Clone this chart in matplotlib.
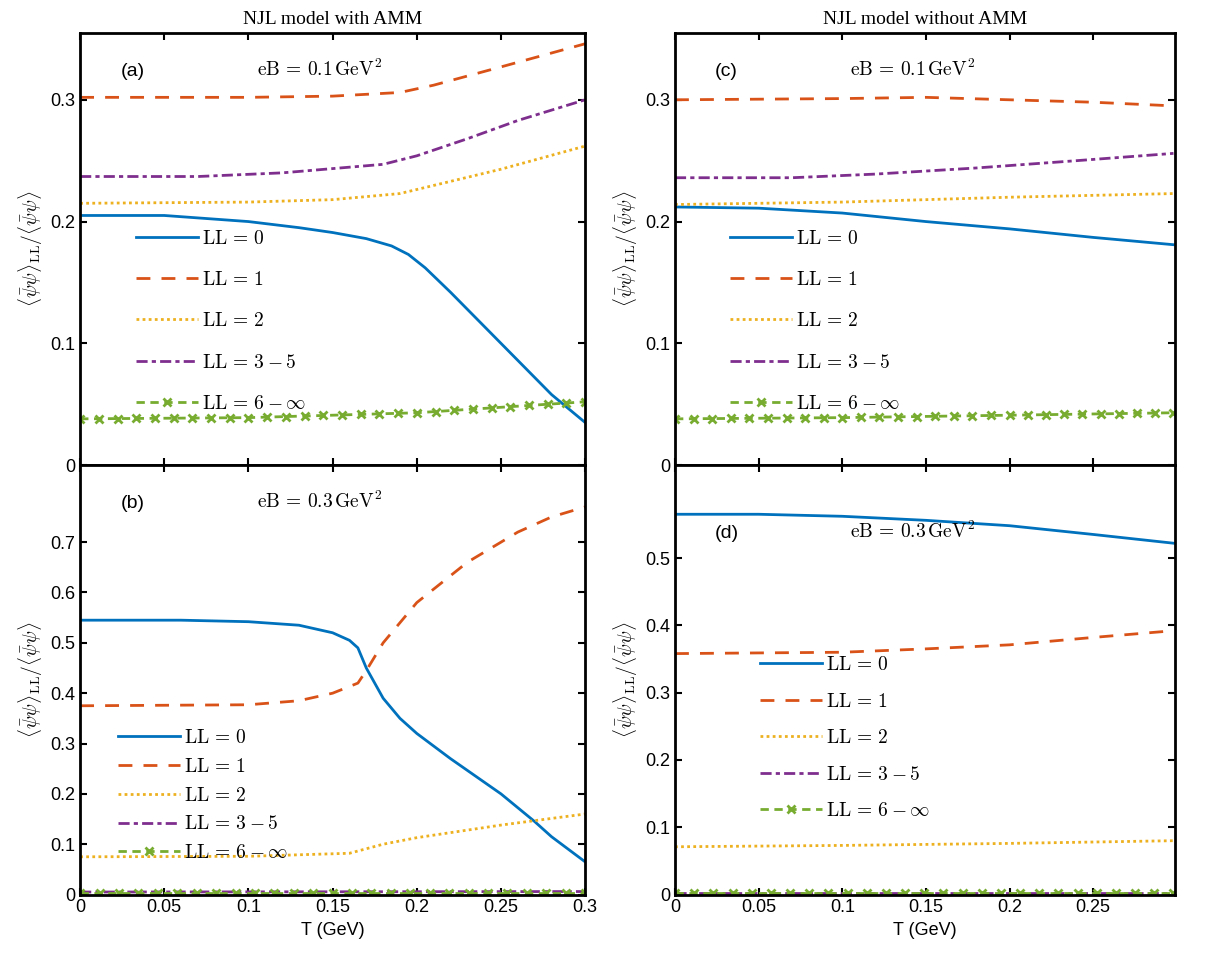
import matplotlib
matplotlib.use("Agg")
import matplotlib.pyplot as plt
import numpy as np
from matplotlib.path import Path

plt.rcParams['font.family'] = ['Liberation Sans', 'DejaVu Sans']
plt.rcParams['mathtext.fontset'] = 'cm'

C = ['#0072BD', '#D95319', '#EDB120', '#7E2F8E', '#77AC30']
labels = [r'$\mathrm{LL}\,=\,0$', r'$\mathrm{LL}\,=\,1$', r'$\mathrm{LL}\,=\,2$',
          r'$\mathrm{LL}\,=\,3-5$', r'$\mathrm{LL}\,=\,6-\infty$']

# panel (a): with AMM, eB=0.1
Ta0 = [0, 0.05, 0.1, 0.13, 0.15, 0.17, 0.185, 0.195, 0.205, 0.22, 0.25, 0.28, 0.3]
a0 = [0.205, 0.205, 0.2, 0.195, 0.191, 0.186, 0.18, 0.173, 0.162, 0.142, 0.1, 0.058, 0.035]
Ta1 = [0, 0.1, 0.15, 0.19, 0.21, 0.25, 0.3]
a1 = [0.302, 0.302, 0.303, 0.306, 0.312, 0.327, 0.346]
Ta2 = [0, 0.1, 0.15, 0.19, 0.22, 0.25, 0.3]
a2 = [0.215, 0.216, 0.218, 0.223, 0.233, 0.243, 0.262]
Ta3 = [0, 0.07, 0.12, 0.18, 0.2, 0.23, 0.26, 0.3]
a3 = [0.237, 0.237, 0.24, 0.247, 0.254, 0.268, 0.283, 0.3]
Ta4 = [0, 0.1, 0.2, 0.3]
a4 = [0.038, 0.039, 0.043, 0.052]

# panel (b): with AMM, eB=0.3
Tb0 = [0, 0.06, 0.1, 0.13, 0.15, 0.16, 0.165, 0.17, 0.18, 0.19, 0.2, 0.22, 0.25, 0.27, 0.28, 0.29, 0.3]
b0 = [0.545, 0.545, 0.542, 0.535, 0.52, 0.505, 0.49, 0.45, 0.39, 0.35, 0.32, 0.27, 0.2, 0.145, 0.115, 0.09, 0.065]
Tb1 = [0, 0.1, 0.13, 0.15, 0.165, 0.17, 0.18, 0.2, 0.23, 0.26, 0.28, 0.3]
b1 = [0.375, 0.377, 0.385, 0.4, 0.42, 0.445, 0.5, 0.58, 0.66, 0.72, 0.75, 0.77]
Tb2 = [0, 0.1, 0.16, 0.18, 0.2, 0.25, 0.3]
b2 = [0.075, 0.076, 0.082, 0.1, 0.113, 0.138, 0.16]
Tb3 = [0, 0.3]
b3 = [0.005, 0.006]
Tb4 = [0, 0.3]
b4 = [0.003, 0.003]

# panel (c): without AMM, eB=0.1
Tc0 = [0, 0.05, 0.1, 0.15, 0.2, 0.25, 0.298]
c0 = [0.212, 0.211, 0.207, 0.2, 0.194, 0.187, 0.181]
Tc1 = [0, 0.1, 0.15, 0.2, 0.25, 0.298]
c1 = [0.300, 0.301, 0.302, 0.300, 0.298, 0.295]
Tc2 = [0, 0.1, 0.2, 0.298]
c2 = [0.214, 0.216, 0.22, 0.223]
Tc3 = [0, 0.07, 0.12, 0.18, 0.24, 0.298]
c3 = [0.236, 0.236, 0.239, 0.244, 0.25, 0.256]
Tc4 = [0, 0.1, 0.2, 0.298]
c4 = [0.038, 0.039, 0.041, 0.043]

# panel (d): without AMM, eB=0.3
Td0 = [0, 0.05, 0.1, 0.15, 0.2, 0.25, 0.298]
d0 = [0.565, 0.565, 0.562, 0.556, 0.548, 0.535, 0.522]
Td1 = [0, 0.1, 0.15, 0.2, 0.25, 0.298]
d1 = [0.358, 0.36, 0.365, 0.371, 0.382, 0.392]
Td2 = [0, 0.1, 0.2, 0.298]
d2 = [0.071, 0.073, 0.076, 0.08]
Td3 = [0, 0.298]
d3 = [0.003, 0.003]
Td4 = [0, 0.298]
d4 = [0.003, 0.003]

fig = plt.figure(figsize=(12.14, 9.65), dpi=100)
axa = fig.add_axes([0.066, 0.518, 0.416, 0.448])
axb = fig.add_axes([0.066, 0.073, 0.416, 0.445])
axc = fig.add_axes([0.556, 0.518, 0.412, 0.448])
axd = fig.add_axes([0.556, 0.073, 0.412, 0.445])

styles = [dict(ls='-'), dict(ls=(0, (5, 4))), dict(ls=(0, (1, 1.2))),
          dict(ls=(0, (4, 1.5, 1.5, 1.5))), dict(ls=(0, (3, 2)))]

def draw(ax, series, tag, eb, ylim, yticks, xmax, xticks, xlab, anchor, lspace, tagy):
    handles = []
    for i, (T, v) in enumerate(series):
        if i < 4:
            h, = ax.plot(T, v, color=C[i], lw=2, label=labels[i], **styles[i])
        else:
            ax.plot(T, v, color=C[i], lw=2, **styles[i])
            # evenly spaced markers along the same piecewise-linear line
            p = Path(np.column_stack([T, v])).interpolated(25 // (len(T) - 1) + 1)
            ax.plot(p.vertices[:, 0], p.vertices[:, 1], ls='none', marker='x',
                    color=C[i], ms=6, mew=2)
            h, = ax.plot([], [], color=C[i], lw=2, marker='x', ms=6, mew=2,
                         label=labels[i], **styles[i])
        handles.append(h)
    ax.set_xlim(0, xmax)
    ax.set_ylim(*ylim)
    ax.set_yticks(yticks)
    ax.set_yticklabels([('0' if t == 0 else f'{t:g}') for t in yticks])
    ax.set_xticks(xticks)
    if xlab:
        ax.set_xticklabels([('0' if t == 0 else f'{t:g}') for t in xticks])
        ax.set_xlabel('T (GeV)', fontsize=13)
    else:
        ax.set_xticklabels([])
    ax.tick_params(direction='in', labelsize=13, width=1.5, length=5, top=True, right=True)
    for s in ax.spines.values():
        s.set_linewidth(2)
    ax.set_ylabel(r'$\langle\bar\psi\psi\rangle_{\mathrm{LL}}/\langle\bar\psi\psi\rangle$', fontsize=14)
    ax.text(0.08, tagy, tag, transform=ax.transAxes, fontsize=14)
    ax.text(0.35, tagy, eb, transform=ax.transAxes, fontsize=14)
    leg = ax.legend(handles=handles, loc='upper left', bbox_to_anchor=anchor, frameon=False,
                    fontsize=14, handlelength=3.2, handletextpad=0.2, labelspacing=lspace,
                    borderaxespad=0, borderpad=0)
    leg._legend_box.align = 'left'

draw(axa, [(Ta0, a0), (Ta1, a1), (Ta2, a2), (Ta3, a3), (Ta4, a4)], '(a)',
     r'$\mathrm{eB}\,=\,0.1\,\mathrm{GeV}^2$', (0, 0.355), [0, 0.1, 0.2, 0.3], 0.3,
     [0, 0.05, 0.1, 0.15, 0.2, 0.25, 0.3], False, (0.11, 0.545), 1.2, 0.9)
draw(axb, [(Tb0, b0), (Tb1, b1), (Tb2, b2), (Tb3, b3), (Tb4, b4)], '(b)',
     r'$\mathrm{eB}\,=\,0.3\,\mathrm{GeV}^2$', (0, 0.853), [0, 0.1, 0.2, 0.3, 0.4, 0.5, 0.6, 0.7], 0.3,
     [0, 0.05, 0.1, 0.15, 0.2, 0.25, 0.3], True, (0.075, 0.385), 0.55, 0.9)
draw(axc, [(Tc0, c0), (Tc1, c1), (Tc2, c2), (Tc3, c3), (Tc4, c4)], '(c)',
     r'$\mathrm{eB}\,=\,0.1\,\mathrm{GeV}^2$', (0, 0.355), [0, 0.1, 0.2, 0.3], 0.299,
     [0, 0.05, 0.1, 0.15, 0.2, 0.25], False, (0.11, 0.545), 1.2, 0.9)
draw(axd, [(Td0, d0), (Td1, d1), (Td2, d2), (Td3, d3), (Td4, d4)], '(d)',
     r'$\mathrm{eB}\,=\,0.3\,\mathrm{GeV}^2$', (0, 0.638), [0, 0.1, 0.2, 0.3, 0.4, 0.5], 0.299,
     [0, 0.05, 0.1, 0.15, 0.2, 0.25], True, (0.17, 0.555), 0.95, 0.83)

axa.set_title('NJL model with AMM', fontsize=14, family='Liberation Serif')
axc.set_title('NJL model without AMM', fontsize=14, family='Liberation Serif')

fig.savefig('out.png', dpi=100)
